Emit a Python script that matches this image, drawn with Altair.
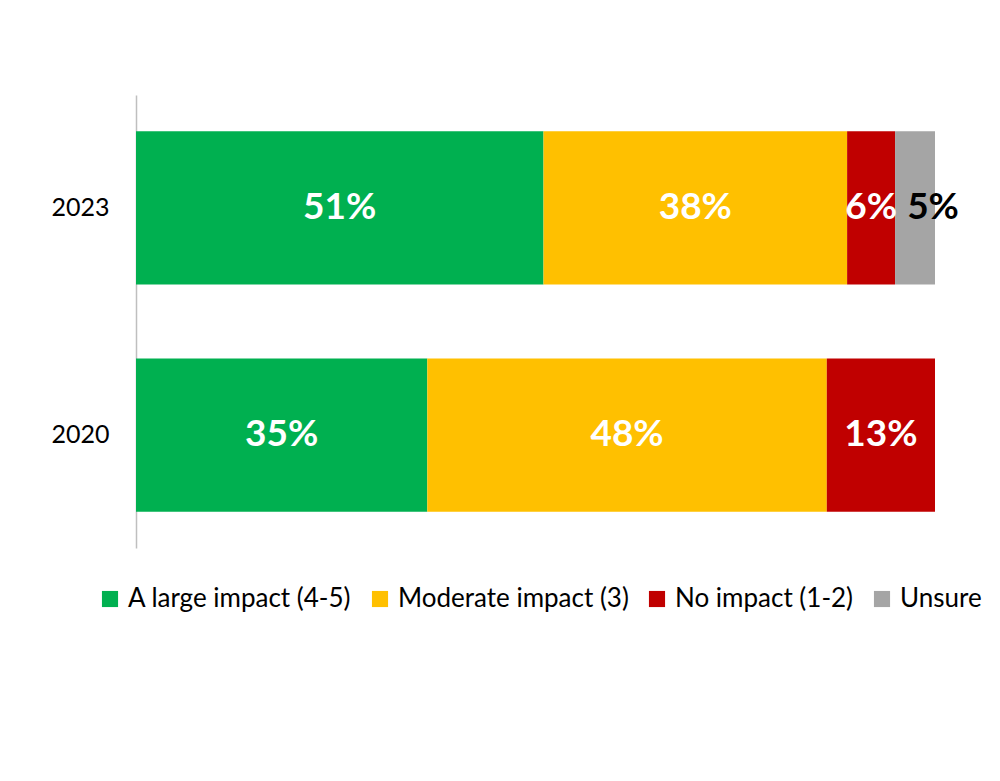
import altair as alt
import pandas as pd

years = ["2023", "2020"]
categories = ["A large impact (4-5)", "Moderate impact (3)", "No impact (1-2)", "Unsure"]
colors = ["#00B050", "#FFC000", "#C00000", "#A5A5A5"]
values_2023 = [51, 38, 6, 5]
values_2020 = [35, 48, 13]

rows = []
for year, vals in zip(years, [values_2023, values_2020]):
    for i, (cat, v) in enumerate(zip(categories, vals)):
        rows.append({"year": year, "category": cat, "value": v, "order": i,
                     "label": f"{v}%"})
df = pd.DataFrame(rows)

FONT = "Lato"

base = alt.Chart(df).transform_stack(
    stack="value", as_=["x0", "x1"], groupby=["year"],
    sort=[alt.SortField("order", order="ascending")], offset="normalize"
).transform_calculate(mid="(datum.x0 + datum.x1) / 2")

y_enc = alt.Y("year:N", sort=years, title=None,
              scale=alt.Scale(paddingInner=0.326, paddingOuter=0.159),
              axis=alt.Axis(domainColor="#BFBFBF", domainWidth=1.5, ticks=False,
                            labelFontSize=25, labelColor="#000000", labelFont=FONT,
                            labelPadding=27, grid=False))

bars = base.mark_bar().encode(
    y=y_enc,
    x=alt.X("x0:Q", scale=alt.Scale(domain=[0, 1]), axis=None),
    x2="x1:Q",
    color=alt.Color("category:N", scale=alt.Scale(domain=categories, range=colors),
                    legend=alt.Legend(orient="none", direction="horizontal",
                                      legendX=-39, legendY=491, title=None,
                                      symbolType="square", symbolSize=260,
                                      symbolStrokeWidth=0, labelFontSize=26,
                                      labelFont=FONT, labelColor="#000000",
                                      labelOffset=5, columnPadding=15,
                                      labelLimit=400, padding=0)),
    order=alt.Order("order:Q"),
)

labels_white = base.transform_filter("datum.category != 'Unsure'").mark_text(
    font=FONT, fontSize=37, fontWeight="bold", color="white"
).encode(y=alt.Y("year:N", sort=years), x=alt.X("mid:Q"), text="label:N")

labels_black = base.transform_filter("datum.category == 'Unsure'").mark_text(
    font=FONT, fontSize=37, fontWeight="bold", color="black", dx=18
).encode(y=alt.Y("year:N", sort=years), x=alt.X("mid:Q"), text="label:N")

chart = alt.layer(bars, labels_white, labels_black).properties(
    width=799, height=453,
    autosize=alt.AutoSizeParams(type="none"),
    padding={"left": 128, "top": 87, "right": 57, "bottom": 225},
).configure_view(stroke=None)

chart.save("out.html", embed_options={"renderer": "svg", "actions": False})
